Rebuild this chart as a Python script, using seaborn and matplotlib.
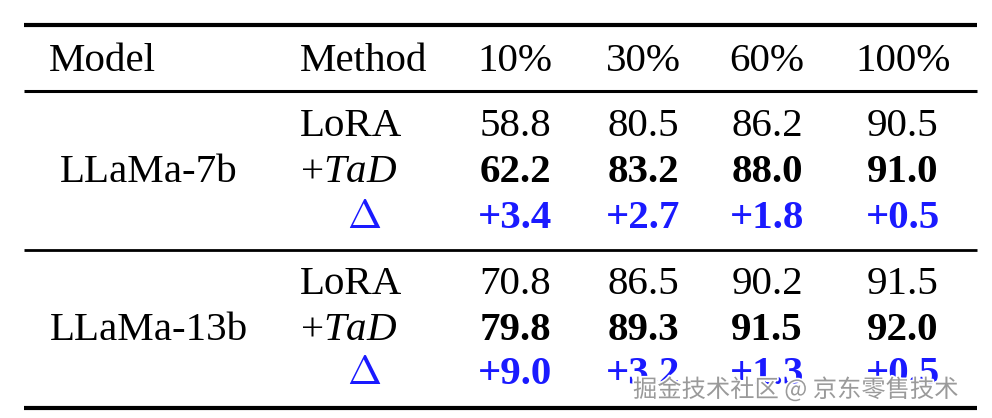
import matplotlib
matplotlib.use("Agg")
import matplotlib.pyplot as plt
import matplotlib.patheffects as pe
import seaborn as sns

# ---- data ----
models = ["LLaMa-7b", "LLaMa-13b"]
methods = ["LoRA", "+TaD", "Δ"]
ratios = ["10%", "30%", "60%", "100%"]
lora_7b = [58.8, 80.5, 86.2, 90.5]
tad_7b = [62.2, 83.2, 88.0, 91.0]
delta_7b = [3.4, 2.7, 1.8, 0.5]
lora_13b = [70.8, 86.5, 90.2, 91.5]
tad_13b = [79.8, 89.3, 91.5, 92.0]
delta_13b = [9.0, 3.2, 1.3, 0.5]

sns.set_theme(style="white")
plt.rcParams["font.family"] = ["Liberation Serif", "DejaVu Serif"]
plt.rcParams["text.color"] = "black"
plt.rcParams["mathtext.fontset"] = "custom"
plt.rcParams["mathtext.rm"] = "Liberation Serif"
plt.rcParams["mathtext.it"] = "Liberation Serif:italic"

fig = plt.figure(figsize=(9.92, 4.18), dpi=100)
ax = fig.add_axes([0, 0, 1, 1])
ax.set_xlim(0, 992)
ax.set_ylim(418, 0)
ax.axis("off")

FS = 29.5
BLUE = "#1a1aff"
K = "black"

# rules
x0, x1 = 24, 977
for y, lw in [(24.5, 3.0), (91, 2.2), (249.5, 2.0), (408, 3.0)]:
    ax.plot([x0, x1], [y, y], color=K, lw=lw, solid_capstyle="butt")

col_x = [515, 643, 767, 903]

# header
ax.text(49, 71, "Model", fontsize=FS, ha="left", va="baseline", color=K)
ax.text(300, 71, "Method", fontsize=FS, ha="left", va="baseline", color=K)
for cx, r in zip(col_x, ratios):
    ax.text(cx, 71, r, fontsize=FS, ha="center", va="baseline", color=K)

groups = [
    (models[0], lora_7b, tad_7b, delta_7b, [136, 182.5, 227.5]),
    (models[1], lora_13b, tad_13b, delta_13b, [294, 340, 384]),
]
for name, lora, tad, delta, ys in groups:
    ax.text(149, ys[1], name, fontsize=FS, ha="center", va="baseline", color=K)
    ax.text(300, ys[0], methods[0], fontsize=FS, ha="left", va="baseline", color=K)
    ax.text(300, ys[1], "+$\\it{TaD}$", fontsize=FS, ha="left", va="baseline", color=K)
    ax.text(364, ys[2], r"$\Delta$", fontsize=FS, ha="center", va="baseline",
            color=BLUE, math_fontfamily="cm")
    for cx, a, b, d in zip(col_x, lora, tad, delta):
        ax.text(cx, ys[0], f"{a:.1f}", fontsize=FS, ha="center", va="baseline", color=K)
        ax.text(cx, ys[1], f"{b:.1f}", fontsize=FS, ha="center", va="baseline",
                fontweight="bold", color=K)
        ax.text(cx, ys[2], f"+{d:.1f}", fontsize=FS, ha="center", va="baseline",
                fontweight="bold", color=BLUE)

# watermark
ax.text(958, 397, "掘金技术社区 @ 京东零售技术", fontsize=17.5, ha="right",
        va="baseline", color="#9a9a9a",
        family=["Noto Sans CJK SC", "DejaVu Sans"],
        path_effects=[pe.withStroke(linewidth=2.5, foreground="white")])

fig.savefig("out.png", dpi=100, facecolor="white")
